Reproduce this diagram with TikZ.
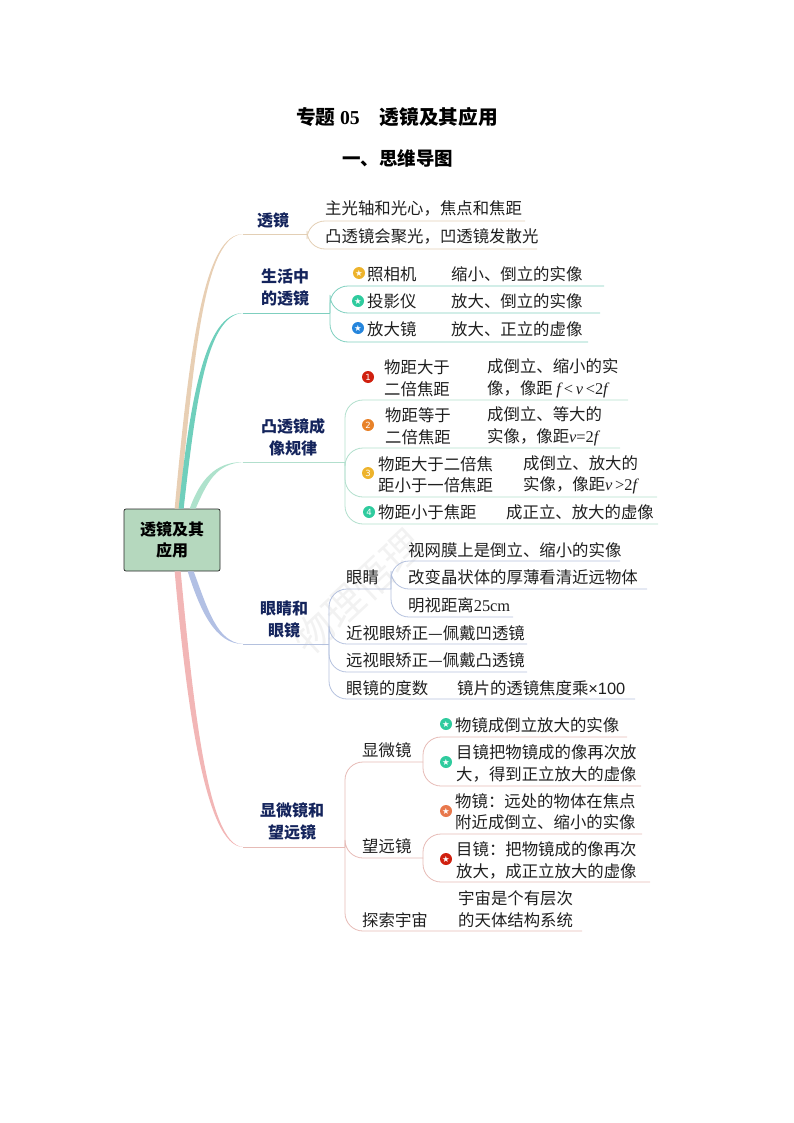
\documentclass[tikz,border=0pt]{standalone}
\usepackage{fontspec}
\setmainfont{Noto Sans CJK SC}
\newfontfamily\tnr{Liberation Serif}
\newfontfamily\arial{Liberation Sans}
\newfontfamily\sym{DejaVu Sans}
\definecolor{tancol}{HTML}{E8CFB4}
\definecolor{tealcol}{HTML}{6FCFBC}
\definecolor{mintcol}{HTML}{AEE2CC}
\definecolor{bluecol}{HTML}{B2C0E4}
\definecolor{pinkcol}{HTML}{F2B6B6}
\definecolor{tanline}{HTML}{E3CFB5}
\definecolor{tealline}{HTML}{7FCFBF}
\definecolor{mintline}{HTML}{B2DFCD}
\definecolor{blueline}{HTML}{B4C1DE}
\definecolor{pinkline}{HTML}{E6BBB6}
\definecolor{navy}{HTML}{14245C}
\definecolor{rootcol}{HTML}{B5D8BE}
\definecolor{badgeyellow}{HTML}{EDB32C}
\definecolor{badgeteal}{HTML}{2FCB9E}
\definecolor{badgeblue}{HTML}{2585DC}
\definecolor{badgered}{HTML}{D0200F}
\definecolor{badgeorange}{HTML}{E8822A}
\definecolor{badgesalmon}{HTML}{E8784C}
\tikzset{
    leaf/.style={anchor=west, inner sep=0pt, yshift=-.7pt, align=left, font=\fontsize{16.4}{21.5}\selectfont, text=black!88},
    topic/.style={inner sep=0pt, align=center, text=navy, font=\fontsize{16}{22}\selectfont\bfseries},
    rootbox/.style={draw=black!85, fill=rootcol, rounded corners=2pt, minimum width=96pt, minimum height=62pt, align=center, inner sep=0pt, line width=.7pt, font=\fontsize{16}{21.5}\selectfont\bfseries},
    badge/.style={circle, fill=#1, minimum size=12pt, inner sep=0pt, text=white, font=\sym\fontsize{8.5}{8.5}\selectfont},
    twig/.style={line width=.8pt, rounded corners=18pt},
}
\newcommand{\starmark}{★}
\begin{document}
\begin{tikzpicture}[x=1pt, y=-1pt]
\useasboundingbox (0,0) rectangle (794,1123);

% watermark
\node[rotate=43, text=black!5, font=\fontsize{40}{40}\selectfont] (mark) at (358,592) {物理悟理};

\node[inner sep=0pt, font=\fontsize{19.7}{20}\selectfont\bfseries] (title) at (397,117) {专题 {\tnr 05}\hspace{20pt}透镜及其应用};
\node[inner sep=0pt, font=\fontsize{18.5}{19}\selectfont\bfseries] (subtitle) at (397.5,158) {一、思维导图};

\node[rootbox] (root) at (172,540) {透镜及其\\应用};

\coordinate (tipA) at (243,234);
\coordinate (tipB) at (243,313);
\coordinate (tipC) at (243,462);
\coordinate (tipD) at (243,644);
\coordinate (tipE) at (243,847);
\coordinate (jA) at (307,234);
\coordinate (jB) at (330,313);
\coordinate (jC) at (345,462);
\coordinate (jD) at (329,644);
\coordinate (jE) at (345,847);

% main branches
\fill[tancol] ([xshift=51pt]root.north west) .. controls (190,340) and (205,234) .. (tipA)
    .. controls (206,236) and (195,340) .. ([xshift=56pt]root.north west);
\fill[tealcol] ([xshift=55pt]root.north west) .. controls (190,400) and (205,313) .. (tipB)
    .. controls (207,315) and (196,400) .. ([xshift=60pt]root.north west);
\fill[mintcol] ([xshift=66pt]root.north west) .. controls (200,480) and (215,462) .. (tipC)
    .. controls (217,464) and (208,480) .. ([xshift=72pt]root.north west);
\fill[bluecol] ([xshift=64pt]root.south west) .. controls (200,610) and (215,644) .. (tipD)
    .. controls (217,642) and (208,610) .. ([xshift=70pt]root.south west);
\fill[pinkcol] ([xshift=51pt]root.south west) .. controls (186,700) and (205,847) .. (tipE)
    .. controls (207,845) and (193,700) .. ([xshift=57pt]root.south west);

\draw[tanline, line width=.8pt] (tipA)--(jA);
\draw[tealline, line width=.8pt] (tipB)--(jB);
\draw[mintline, line width=.8pt] (tipC)--(jC);
\draw[blueline, line width=.8pt] (tipD)--(jD);
\draw[pinkline, line width=.8pt] (tipE)--(jE);

\node[topic] (topicA) at (273,220) {透镜};
\node[topic] (topicB) at (285,288) {生活中\\的透镜};
\node[topic] (topicC) at (293,437.5) {凸透镜成\\像规律};
\node[topic] (topicD) at (284,619) {眼睛和\\眼镜};
\node[topic] (topicE) at (292,821) {显微镜和\\望远镜};

% underlines
\foreach \n/\x/\y in {a1/525/221,a2/537/249}
{
    \coordinate (\n) at (\x,\y);
    \draw[twig, tanline] (jA) |- (\n);
}
\foreach \n/\x/\y in {b1/604/286,b2/600/313,b3/588/342}
{
    \coordinate (\n) at (\x,\y);
    \draw[twig, tealline] (jB) |- (\n);
}
\foreach \n/\x/\y in {c1/628/400,c2/620/448,c3/657/497,c4/658/524}
{
    \coordinate (\n) at (\x,\y);
    \draw[twig, mintline] (jC) |- (\n);
}
\coordinate (jDa) at (391,589);
\foreach \n/\x/\y in {d1/391/589,d2/527/644,d3/527/672,d4/635/699}
{
    \coordinate (\n) at (\x,\y);
    \draw[twig, blueline] (jD) |- (\n);
}
\foreach \n/\x/\y in {d5/620/561,d6/647/589,d7/513/617}
{
    \coordinate (\n) at (\x,\y);
    \draw[twig, blueline] (jDa) |- (\n);
}
\coordinate (jEa) at (423,762);
\coordinate (jEb) at (423,858);
\foreach \n/\x/\y in {e1/423/762,e2/423/858,e3/582/931}
{
    \coordinate (\n) at (\x,\y);
    \draw[twig, pinkline] (jE) |- (\n);
}
\foreach \n/\x/\y in {e4/627/737,e5/641/786}
{
    \coordinate (\n) at (\x,\y);
    \draw[twig, pinkline] (jEa) |- (\n);
}
\foreach \n/\x/\y in {e6/642/834,e7/650/882}
{
    \coordinate (\n) at (\x,\y);
    \draw[twig, pinkline] (jEb) |- (\n);
}

% leaf texts
\node[leaf] (t1) at (325,208) {主光轴和光心，焦点和焦距};
\node[leaf] (t2) at (325,236) {凸透镜会聚光，凹透镜发散光};

\node[leaf] (t3) at (367,274) {照相机};
\node[leaf] (t4) at (451,274) {缩小、倒立的实像};
\node[leaf] (t5) at (367,301) {投影仪};
\node[leaf] (t6) at (451,301) {放大、倒立的实像};
\node[leaf] (t7) at (367,329) {放大镜};
\node[leaf] (t8) at (451,329) {放大、正立的虚像};

\node[leaf] (t9) at (384,377.5) {物距大于\\二倍焦距};
\node[leaf] (t10) at (487,377.5) {成倒立、缩小的实\\像，像距 {\tnr\itshape f}\,{\tnr <}\,{\tnr\itshape v}\,{\tnr <2}{\tnr\itshape f}};
\node[leaf] (t11) at (385,425.5) {物距等于\\二倍焦距};
\node[leaf] (t12) at (487,425.5) {成倒立、等大的\\实像，像距{\tnr\itshape v}{\tnr =2}{\tnr\itshape f}};
\node[leaf] (t13) at (378,474) {物距大于二倍焦\\距小于一倍焦距};
\node[leaf] (t14) at (523,474) {成倒立、放大的\\实像，像距{\tnr\itshape v}\,{\tnr >2}{\tnr\itshape f}};
\node[leaf] (t15) at (378,512) {物距小于焦距};
\node[leaf] (t16) at (506,512) {成正立、放大的虚像};

\node[leaf] (t17) at (346,577) {眼睛};
\node[leaf] (t18) at (408,550) {视网膜上是倒立、缩小的实像};
\node[leaf] (t19) at (408,577) {改变晶状体的厚薄看清近远物体};
\node[leaf] (t20) at (408,605) {明视距离{\tnr 25cm}};
\node[leaf] (t21) at (346,632.5) {近视眼矫正—佩戴凹透镜};
\node[leaf] (t22) at (346,660) {远视眼矫正—佩戴凸透镜};
\node[leaf] (t23) at (346,687.5) {眼镜的度数};
\node[leaf] (t24) at (457,687.5) {镜片的透镜焦度乘{\arial ×100}};

\node[leaf] (t25) at (362,750) {显微镜};
\node[leaf] (t26) at (455,725) {物镜成倒立放大的实像};
\node[leaf] (t27) at (456,762.5) {目镜把物镜成的像再次放\\大，得到正立放大的虚像};
\node[leaf] (t28) at (362,846) {望远镜};
\node[leaf] (t29) at (455,811) {物镜：远处的物体在焦点\\附近成倒立、缩小的实像};
\node[leaf] (t30) at (456,859.5) {目镜：把物镜成的像再次\\放大，成正立放大的虚像};
\node[leaf] (t31) at (362,919) {探索宇宙};
\node[leaf] (t32) at (458,908.5) {宇宙是个有层次\\的天体结构系统};

% badges
\node[badge=badgeyellow] (s1) at (359,273) {\starmark};
\node[badge=badgeteal] (s2) at (358,301) {\starmark};
\node[badge=badgeblue] (s3) at (358,328) {\starmark};
\node[badge=badgered] (n1) at (368,377) {1};
\node[badge=badgeorange] (n2) at (368,425) {2};
\node[badge=badgeyellow] (n3) at (368,473) {3};
\node[badge=badgeteal] (n4) at (369,512) {4};
\node[badge=badgeteal] (s4) at (446,724) {\starmark};
\node[badge=badgeteal] (s5) at (446,762) {\starmark};
\node[badge=badgesalmon] (s6) at (446,811) {\starmark};
\node[badge=badgered] (s7) at (446,859) {\starmark};
\end{tikzpicture}
\end{document}
